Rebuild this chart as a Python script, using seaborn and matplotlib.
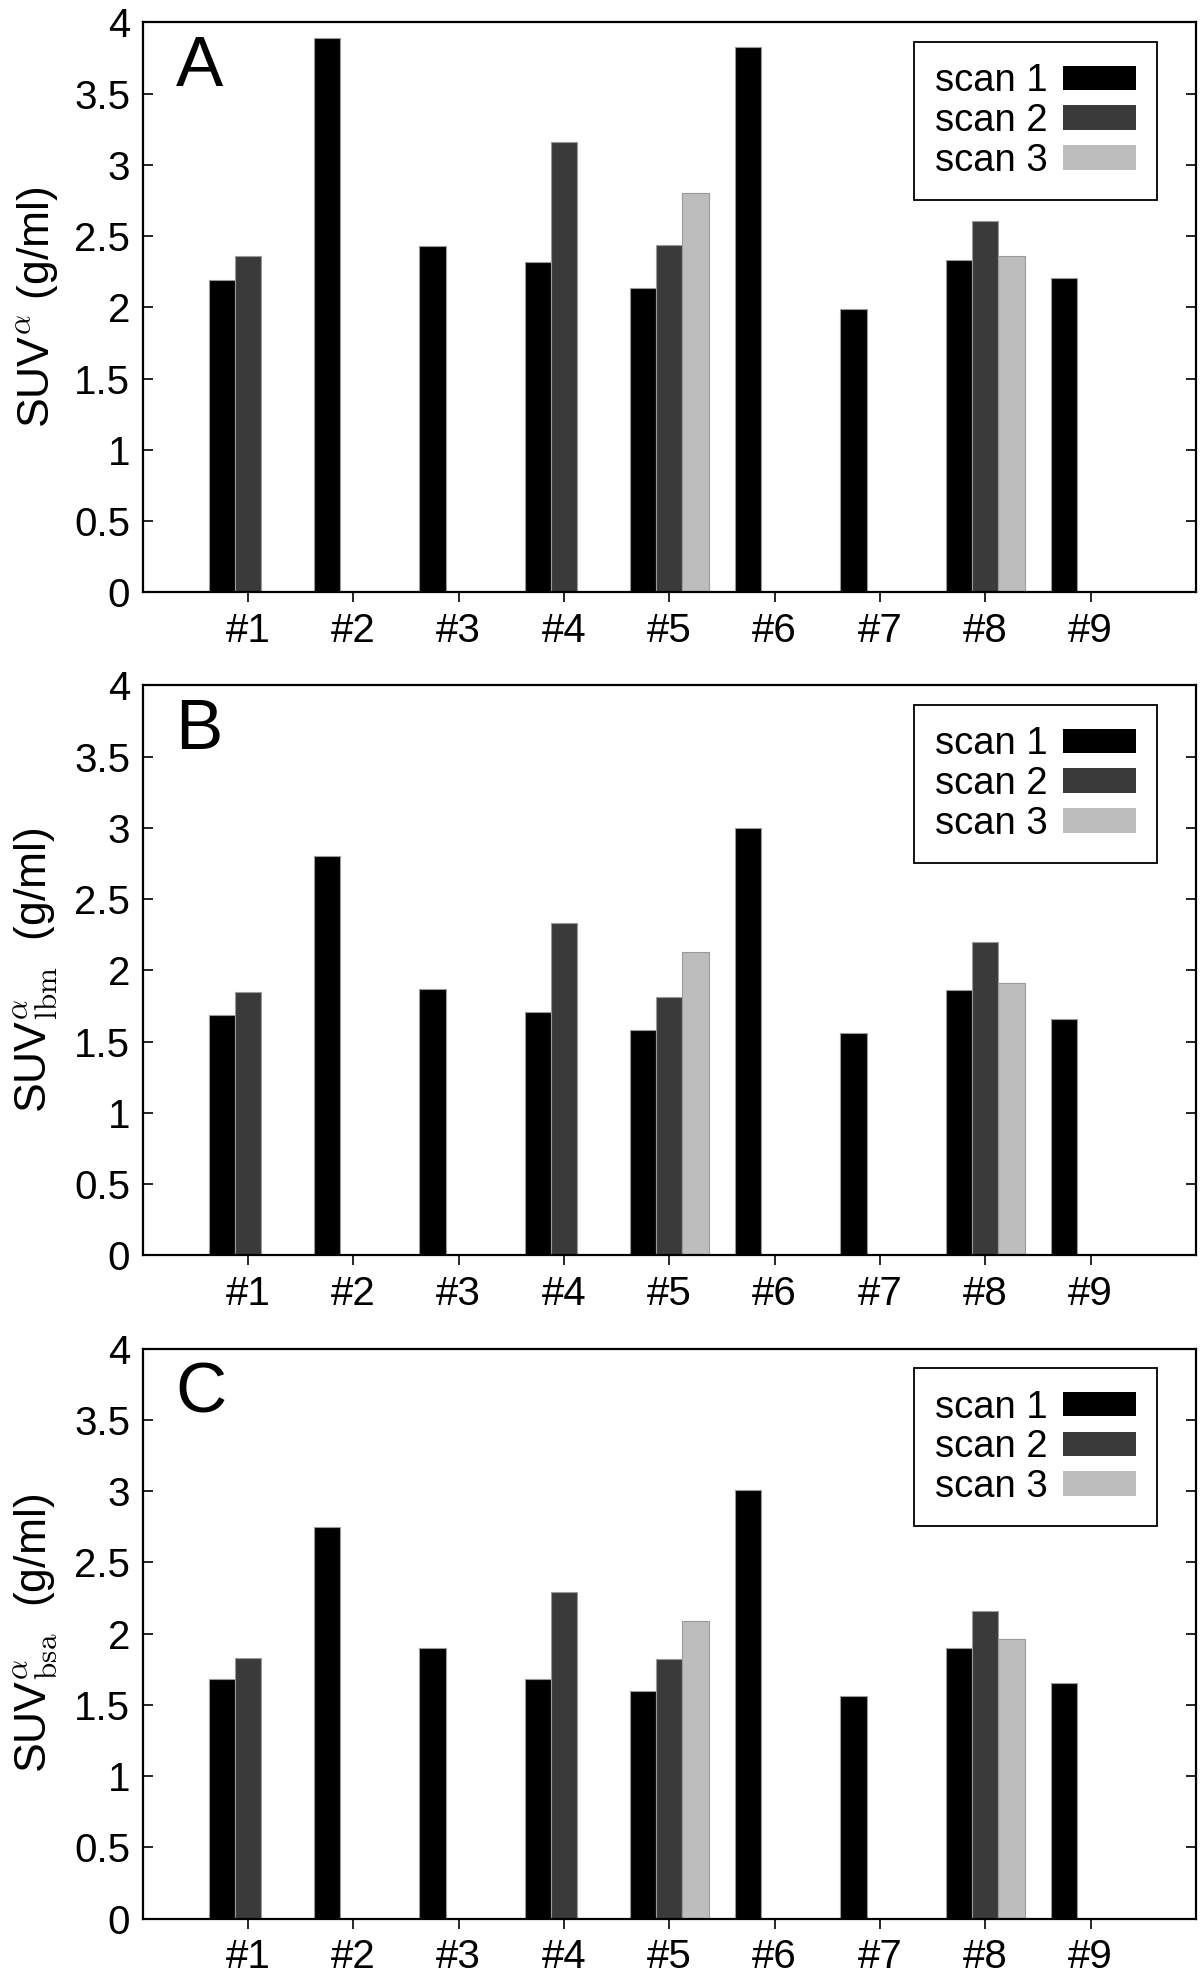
import pandas as pd
import matplotlib
matplotlib.use("Agg")
import matplotlib.pyplot as plt
from matplotlib.patches import Patch
from matplotlib.ticker import FuncFormatter
import seaborn as sns

sns.set_theme(style="ticks")
plt.rcParams['font.family'] = ['Liberation Sans', 'DejaVu Sans']
plt.rcParams['mathtext.fontset'] = 'cm'
plt.rcParams.update({'text.color': 'black', 'axes.labelcolor': 'black',
                     'xtick.color': 'black', 'ytick.color': 'black'})

# data
subjects = ['#1', '#2', '#3', '#4', '#5', '#6', '#7', '#8', '#9']
scans = ['scan 1', 'scan 2', 'scan 3']

# panel A: SUV
suv_scan1 = [2.19, 3.89, 2.43, 2.32, 2.14, 3.83, 1.99, 2.33, 2.21]
suv_scan2 = [2.36, None, None, 3.16, 2.44, None, None, 2.61, None]
suv_scan3 = [None, None, None, None, 2.80, None, None, 2.36, None]

# panel B: SUV lbm
lbm_scan1 = [1.69, 2.80, 1.87, 1.71, 1.58, 3.00, 1.56, 1.86, 1.66]
lbm_scan2 = [1.85, None, None, 2.33, 1.81, None, None, 2.20, None]
lbm_scan3 = [None, None, None, None, 2.13, None, None, 1.91, None]

# panel C: SUV bsa
bsa_scan1 = [1.68, 2.75, 1.90, 1.68, 1.60, 3.01, 1.56, 1.90, 1.65]
bsa_scan2 = [1.83, None, None, 2.29, 1.82, None, None, 2.16, None]
bsa_scan3 = [None, None, None, None, 2.09, None, None, 1.96, None]

palette = {'scan 1': '#000000', 'scan 2': '#3a3a3a', 'scan 3': '#bdbdbd'}

panels = [
    ('A', r'SUV$^{\alpha}$ (g/ml)', [suv_scan1, suv_scan2, suv_scan3]),
    ('B', r'SUV$^{\alpha}_{\mathrm{lbm}}$  (g/ml)', [lbm_scan1, lbm_scan2, lbm_scan3]),
    ('C', r'SUV$^{\alpha}_{\mathrm{bsa}}$  (g/ml)', [bsa_scan1, bsa_scan2, bsa_scan3]),
]


def to_long(series):
    rows = []
    for scan, vals in zip(scans, series):
        for subj, v in zip(subjects, vals):
            if v is not None:
                rows.append({'subject': subj, 'scan': scan, 'value': v})
    return pd.DataFrame(rows)


fig = plt.figure(figsize=(12, 19.73), dpi=100)
bottoms = [0.6997, 0.3637, 0.0276]

for (letter, ylabel, series), bottom in zip(panels, bottoms):
    ax = fig.add_axes([0.119, bottom, 0.8775, 0.2889])
    df = to_long(series)
    sns.barplot(ax=ax, data=df, x='subject', y='value', hue='scan',
                order=subjects, hue_order=scans, palette=palette,
                width=0.75, errorbar=None, edgecolor='#9a9a9a',
                linewidth=0.8, saturation=1)

    ax.set_xlim(-1, 9)
    ax.set_ylim(0, 4)
    ax.set_yticks([0, 0.5, 1, 1.5, 2, 2.5, 3, 3.5, 4])
    ax.yaxis.set_major_formatter(FuncFormatter(lambda v, p: f'{v:g}'))
    ax.set_xlabel('')
    ax.set_ylabel(ylabel, fontsize=32)
    ax.yaxis.set_label_coords(-0.079, 0.5)

    for sp in ax.spines.values():
        sp.set_visible(True)
        sp.set_color('black')
        sp.set_linewidth(1.6)

    ax.tick_params(axis='y', direction='in', left=True, right=True,
                   length=7, width=1.2, labelsize=29, pad=9)
    ax.tick_params(axis='x', direction='out', bottom=True, top=False,
                   length=7, width=1.2, labelsize=29, pad=7)

    ax.text(0.031, 0.978, letter, transform=ax.transAxes, fontsize=51,
            ha='left', va='top')

    handles = [Patch(facecolor=palette[s], edgecolor='none') for s in scans]
    ax.legend(handles, scans, loc='upper right', bbox_to_anchor=(0.963, 0.965),
              borderaxespad=0, fontsize=27.5, markerfirst=False, frameon=True,
              fancybox=False, edgecolor='black', framealpha=1,
              handlelength=1.9, handleheight=0.62, labelspacing=0.1,
              handletextpad=0.4, borderpad=0.55)
    ax.get_legend().get_frame().set_linewidth(1.3)

fig.savefig('out.png', dpi=100)
